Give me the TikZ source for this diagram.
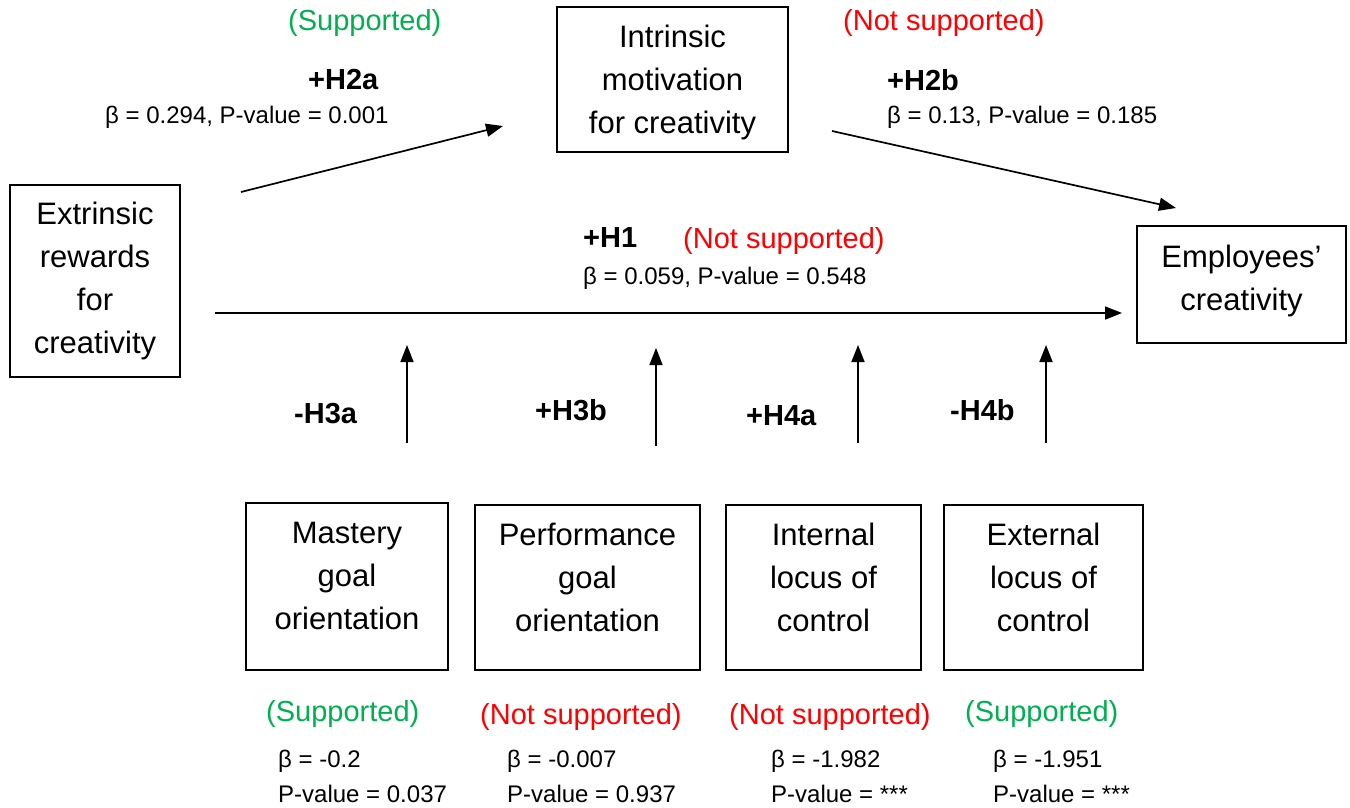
\documentclass[tikz,border=0pt]{standalone}
\usepackage{fontspec}
\setmainfont{Liberation Sans}
\usetikzlibrary{arrows.meta}
\definecolor{supgreen}{RGB}{0,176,80}
\definecolor{nsred}{RGB}{255,0,0}
\begin{document}
\begin{tikzpicture}[x=1pt,y=-1pt,
  box/.style={draw, line width=1.7pt, inner sep=0pt, align=center, font=\fontsize{31}{43}\selectfont},
  bigtxt/.style={align=center, font=\fontsize{31}{43}\selectfont, inner sep=0pt},
  small/.style={font=\fontsize{24}{35}\selectfont, inner sep=0pt, anchor=west, align=left},
  hyp/.style={font=\fontsize{29}{30}\selectfont\bfseries, inner sep=0pt, anchor=west},
  suptxt/.style={font=\fontsize{29}{30}\selectfont, text=supgreen, inner sep=0pt, anchor=west},
  nstxt/.style={font=\fontsize{29}{30}\selectfont, text=nsred, inner sep=0pt, anchor=west},
  arr/.style={line width=1.7pt, -{Triangle[length=17pt,width=13pt]}}]
\useasboundingbox (0,0) rectangle (1350,807);

% main boxes
\node[box, minimum width=170pt, minimum height=192pt] (ext) at (95,281) {Extrinsic\\rewards\\for\\creativity};
\node[box, minimum width=231pt, minimum height=145pt,
  label={[bigtxt,yshift=-3pt]center:{Intrinsic\\motivation\\for creativity}}] (int) at (672.5,79.5) {};
\node[box, minimum width=209pt, minimum height=117pt,
  label={[bigtxt,yshift=4pt]center:{Employees’\\creativity}}] (emp) at (1241.5,284.5) {};

% moderator boxes
\node[box, minimum width=202pt, minimum height=167pt,
  label={[bigtxt,yshift=11pt]center:{Mastery\\goal\\orientation}}] (mast) at (347,586.5) {};
\node[box, minimum width=225pt, minimum height=165pt,
  label={[bigtxt,yshift=10pt]center:{Performance\\goal\\orientation}}] (perf) at (587.5,587.5) {};
\node[box, minimum width=195pt, minimum height=165pt,
  label={[bigtxt,yshift=10pt]center:{Internal\\locus of\\control}}] (intl) at (823.5,587.5) {};
\node[box, minimum width=199pt, minimum height=165pt,
  label={[bigtxt,yshift=10pt]center:{External\\locus of\\control}}] (extl) at (1043.5,587.5) {};

% arrow end points
\coordinate (a2s) at (241,192);
\coordinate (a2e) at (503,126);
\coordinate (b2s) at (832,131);
\coordinate (b2e) at (1176,208);
\coordinate (h1s) at (215,313);
\coordinate (h1e) at (1122,313);
\coordinate (m1s) at (407,443);
\coordinate (m1e) at (407,345);
\coordinate (m2s) at (656,446);
\coordinate (m2e) at (656,348);
\coordinate (m3s) at (858,443);
\coordinate (m3e) at (858,345);
\coordinate (m4s) at (1046,443);
\coordinate (m4e) at (1046,345);

\draw[arr] (a2s) -- (a2e);
\draw[arr] (b2s) -- (b2e);
\draw[arr] (h1s) -- (h1e);
\draw[arr] (m1s) -- (m1e);
\draw[arr] (m2s) -- (m2e);
\draw[arr] (m3s) -- (m3e);
\draw[arr] (m4s) -- (m4e);

% labels top
\node[suptxt] (s2a) at (288,23) {(Supported)};
\node[hyp] (h2a) at (308,80) {+H2a};
\node[small] (b2a) at (105,117) {β = 0.294, P-value = 0.001};
\node[nstxt] (s2b) at (843,23) {(Not supported)};
\node[hyp] (h2b) at (887,80) {+H2b};
\node[small] (bb2b) at (887,117) {β = 0.13, P-value = 0.185};
\node[hyp] (h1) at (583,238) {+H1};
\node[nstxt] (s1) at (683,241) {(Not supported)};
\node[small] (b1) at (583,278) {β = 0.059, P-value = 0.548};

% moderator hypothesis labels
\node[hyp] (h3a) at (294,414) {-H3a};
\node[hyp] (h3b) at (535,410) {+H3b};
\node[hyp] (h4a) at (746,416) {+H4a};
\node[hyp] (h4b) at (950,410) {-H4b};

% bottom results
\node[suptxt] (s3a) at (266,714) {(Supported)};
\node[nstxt] (s3b) at (480,717) {(Not supported)};
\node[nstxt] (s4a) at (729,717) {(Not supported)};
\node[suptxt] (s4b) at (965,714) {(Supported)};
\node[small] (r3a) at (278,776) {β = -0.2\\P-value = 0.037};
\node[small] (r3b) at (507,776) {β = -0.007\\P-value = 0.937};
\node[small] (r4a) at (771,776) {β = -1.982\\P-value = ***};
\node[small] (r4b) at (993,776) {β = -1.951\\P-value = ***};
\end{tikzpicture}
\end{document}
